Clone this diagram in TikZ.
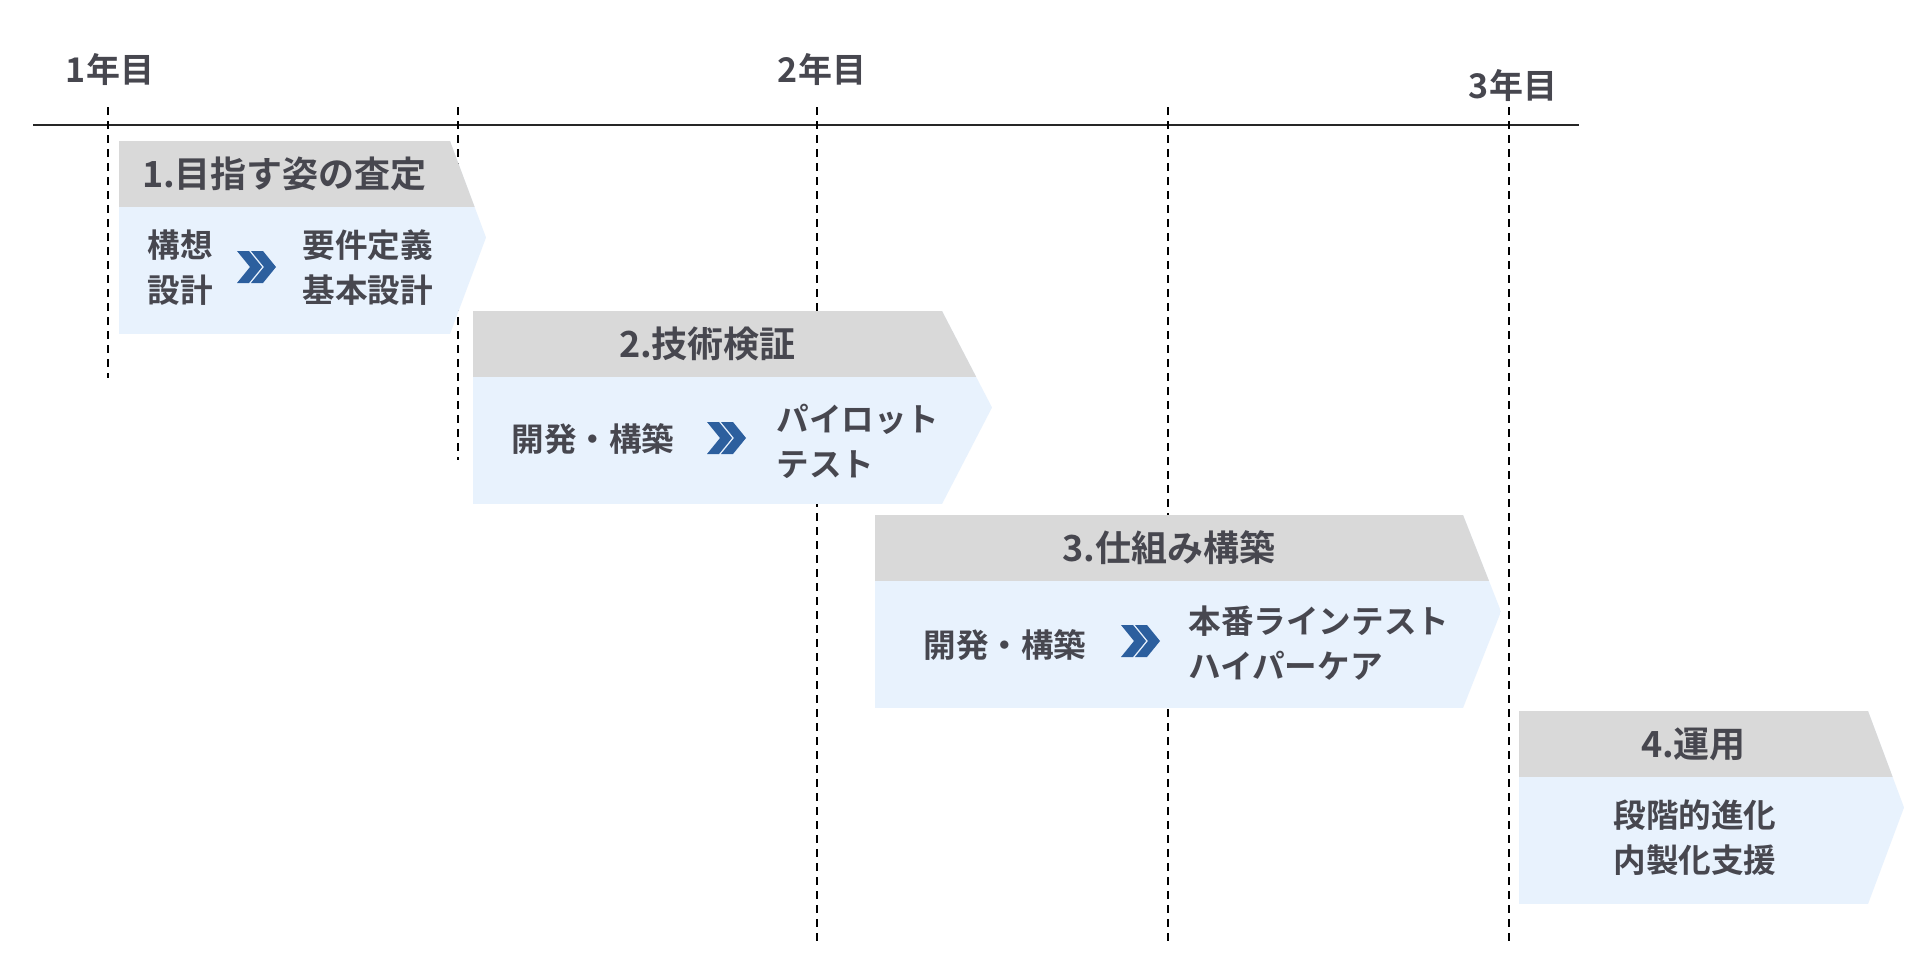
\documentclass[tikz,border=0pt]{standalone}
\usepackage{fontspec}
\setmainfont{Noto Sans CJK JP}[BoldFont={Noto Sans CJK JP Bold}]
\definecolor{ink}{HTML}{47474F}
\definecolor{headgray}{HTML}{D9D9D9}
\definecolor{bodyblue}{HTML}{E8F2FD}
\definecolor{chevblue}{HTML}{2C5F9E}
\tikzset{
  year/.style={font=\bfseries\fontsize{17}{20}\selectfont, text=ink, inner sep=0pt},
  head/.style={font=\bfseries\fontsize{18}{22}\selectfont, text=ink, inner sep=0pt},
  body/.style={font=\bfseries\fontsize{16.3}{22.5}\selectfont, text=ink, inner sep=0pt, align=left, anchor=west},
  guide/.style={dash pattern=on 4pt off 3pt, line width=1pt},
  dchev/.pic={\foreach \s in {0,14} \fill[chevblue] (\s,-16) -- ++(12,0) -- ++(13,16) -- ++(-13,16) -- ++(-12,0) -- ++(13,-16) -- cycle;}
}
\begin{document}
\begin{tikzpicture}[x=0.5pt,y=-0.5pt]
  \fill[white] (0,0) rectangle (1920,976);
  \useasboundingbox (0,0) rectangle (1920,976);
  % time axis and year guides
  \draw[line width=1pt, black!85] (33,125) -- (1579,125);
  \foreach \x/\e in {108/378, 458/460, 817/942, 1168/942, 1509/942}
    \draw[guide] (\x,107) -- (\x,\e);
  \node[year] (y1) at (110,70) {1年目};
  \node[year] (y2) at (822,70) {2年目};
  \node[year] (y3) at (1513,86) {3年目};
  % stage arrows
  \foreach \l/\r/\w/\t in {119/450/36/141, 473/942/50/311, 875/1463/38/515, 1519/1868/36/711}{
    \begin{scope}
      \clip (\l,\t) -- (\r,\t) -- (\r+\w,\t+96.5) -- (\r,\t+193) -- (\l,\t+193) -- cycle;
      \fill[bodyblue] (\l,\t) rectangle (\r+\w,\t+193);
      \fill[headgray] (\l,\t) rectangle (\r+\w,\t+66);
    \end{scope}
  }
  \node[head] (h1) at (284.5,174) {1.目指す姿の査定};
  \node[head] (h2) at (707.5,344) {2.技術検証};
  \node[head] (h3) at (1169,548) {3.仕組み構築};
  \node[head] (h4) at (1693.5,744) {4.運用};
  % stage contents
  \node[body] (a1) at (147,268) {構想\\設計};
  \pic (c1) at (237,267) {dchev};
  \node[body] (b1) at (302,268) {要件定義\\基本設計};
  \node[body] (a2) at (511,439) {開発・構築};
  \pic (c2) at (707,438) {dchev};
  \node[body] (b2) at (776,441) {パイロット\\テスト};
  \node[body] (a3) at (923,645) {開発・構築};
  \pic (c3) at (1121,641) {dchev};
  \node[body] (b3) at (1188,643) {本番ラインテスト\\ハイパーケア};
  \node[body, anchor=center, align=center] (b4) at (1695,838) {段階的進化\\内製化支援};
\end{tikzpicture}
\end{document}
